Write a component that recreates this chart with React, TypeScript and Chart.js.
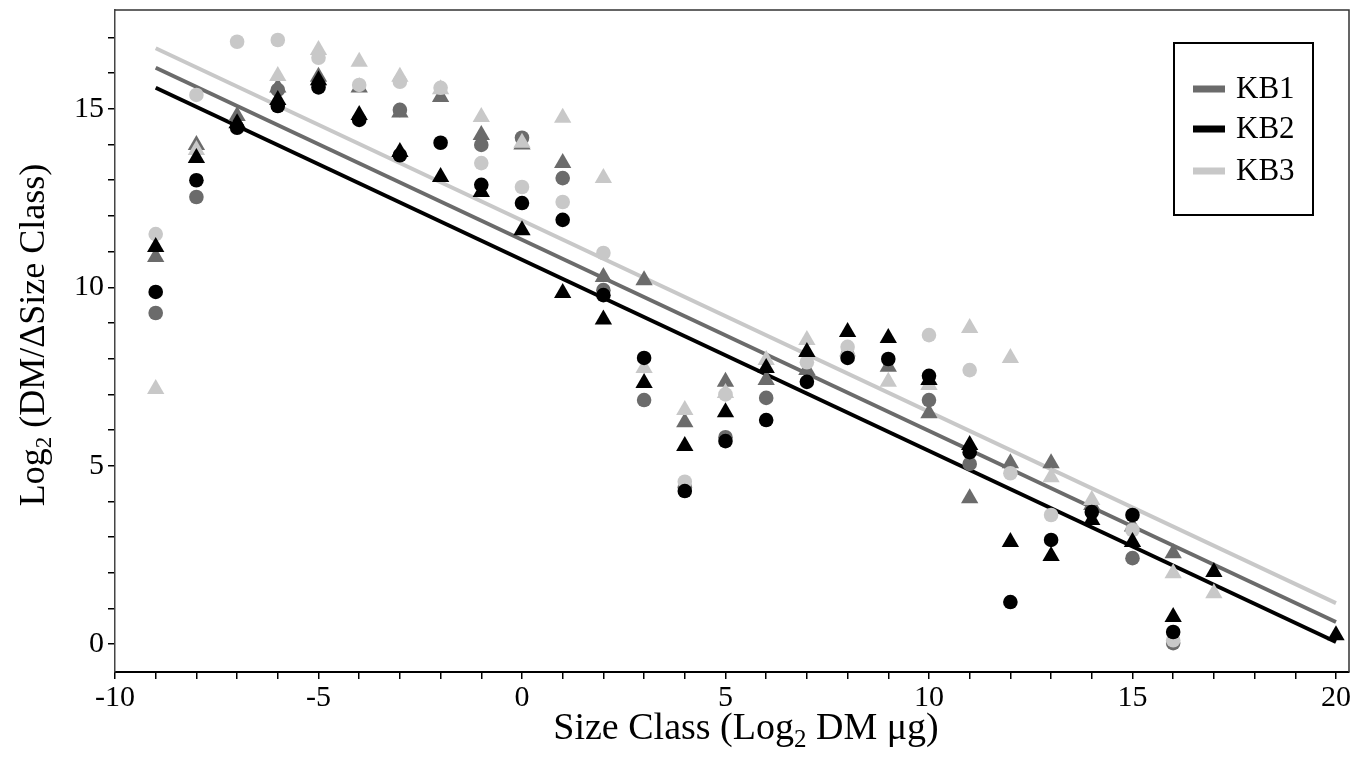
import React, { useEffect, useRef } from 'react';
import { Chart, registerables } from 'chart.js';

Chart.register(...registerables);

// ---- data ----
const sizeClasses = [-9, -8, -7, -6, -5, -4, -3, -2, -1, 0, 1, 2, 3, 4, 5, 6, 7, 8, 9, 10, 11, 12, 13, 14, 15, 16, 17, 18, 19, 20];

const kb1Circles = [9.28, 12.53, null, 15.53, null, null, 14.97, null, 13.99, 14.19, 13.06, 9.92, 6.84, 4.4, 5.8, 6.9, null, 8.1, null, 6.84, 5.05, null, null, null, 2.41, 0.03, null, null, null, null];
const kb1Triangles = [10.85, 13.99, 14.8, 15.6, 15.9, 15.6, 14.9, 15.33, 14.27, 14.0, 13.48, 10.29, 10.2, 6.22, 7.35, 7.4, 7.68, null, 7.77, 6.47, 4.09, 5.07, 5.07, 3.9, 3.3, 2.55, null, null, null, null];

const kb2Circles = [9.87, 13.0, 14.47, 15.08, 15.6, 14.69, 13.7, 14.05, 12.87, 12.36, 11.89, 9.78, 8.02, 4.29, 5.69, 6.28, 7.35, 8.02, 7.99, 7.52, 5.38, 1.18, 2.92, 3.7, 3.62, 0.34, null, null, null, null];
const kb2Triangles = [11.13, 13.62, 14.6, 15.25, 15.8, 14.83, 13.79, 13.09, 12.67, 11.6, 9.84, 9.1, 7.32, 5.55, 6.5, 7.74, 8.19, 8.75, 8.58, 7.4, 5.58, 2.86, 2.47, 3.48, 2.86, 0.76, 2.02, null, null, 0.25];

const kb3Circles = [11.49, 15.39, 16.88, 16.93, 16.43, 15.67, 15.76, 15.59, 13.48, 12.81, 12.39, 10.96, null, 4.55, 7.0, null, 7.9, 8.33, null, 8.66, 7.68, 4.79, 3.62, null, 3.2, 0.11, null, null, null, null];
const kb3Triangles = [7.15, 13.85, null, 15.92, 16.65, 16.32, 15.9, 15.55, 14.77, 14.05, 14.75, 13.06, 7.74, 6.56, 7.04, 7.96, 8.52, 8.2, 7.35, 7.26, 8.86, 8.02, 4.68, 4.04, null, 1.99, 1.43, null, null, null];

const fitX = [-9, 20];
const kb1Fit = [16.15, 0.62];
const kb2Fit = [15.59, 0.06];
const kb3Fit = [16.7, 1.15];

const seriesLabels = ['KB1', 'KB2', 'KB3'];
const seriesColors = ['#6b6b6b', '#000000', '#c8c8c8'];

const xMajorTicks = [-10, -5, 0, 5, 10, 15, 20];
const yMajorTicks = [0, 5, 10, 15];
const xTickRange = [-10, 20];
const yTickRange = [0, 17];

const xTitle = [
  { text: 'Size Class (Log', sub: false },
  { text: '2', sub: true },
  { text: ' DM \u03bcg)', sub: false },
];
const yTitle = [
  { text: 'Log', sub: false },
  { text: '2', sub: true },
  { text: ' (DM/\u0394Size Class)', sub: false },
];

const FONT = '"Liberation Serif", "Times New Roman", serif';

function toPoints(ys: (number | null)[]) {
  const out: { x: number; y: number }[] = [];
  sizeClasses.forEach((x, i) => {
    const y = ys[i];
    if (y !== null && y !== undefined) out.push({ x, y });
  });
  return out;
}

function fitPoints(ys: number[]) {
  return fitX.map((x, i) => ({ x, y: ys[i] }));
}

function drawRich(ctx: CanvasRenderingContext2D, segs: { text: string; sub: boolean }[], cx: number, baseY: number, size: number) {
  const fontFor = (sub: boolean) => `${sub ? Math.round(size * 0.65) : size}px ${FONT}`;
  let total = 0;
  segs.forEach((s) => {
    ctx.font = fontFor(s.sub);
    total += ctx.measureText(s.text).width;
  });
  let x = cx - total / 2;
  ctx.textAlign = 'left';
  ctx.textBaseline = 'alphabetic';
  segs.forEach((s) => {
    ctx.font = fontFor(s.sub);
    ctx.fillText(s.text, x, baseY + (s.sub ? size * 0.2 : 0));
    x += ctx.measureText(s.text).width;
  });
}

const decorPlugin = {
  id: 'decor',
  afterDraw(chart: any) {
    const ctx: CanvasRenderingContext2D = chart.ctx;
    const a = chart.chartArea;
    ctx.save();
    // frame top & right
    ctx.strokeStyle = '#333333';
    ctx.lineWidth = 1.5;
    ctx.beginPath();
    ctx.moveTo(a.left, a.top);
    ctx.lineTo(a.right, a.top);
    ctx.lineTo(a.right, a.bottom);
    ctx.stroke();
    // axis titles
    ctx.fillStyle = '#000';
    drawRich(ctx, xTitle, 746, 739, 38);
    ctx.save();
    ctx.translate(44, 335);
    ctx.rotate(-Math.PI / 2);
    drawRich(ctx, yTitle, 0, 0, 36);
    ctx.restore();
    // legend box
    const bx = 1174, by = 43, bw = 139, bh = 172;
    ctx.fillStyle = '#fff';
    ctx.fillRect(bx, by, bw, bh);
    ctx.strokeStyle = '#000';
    ctx.lineWidth = 2;
    ctx.strokeRect(bx, by, bw, bh);
    const rows = [89, 129, 171];
    seriesLabels.forEach((lab, i) => {
      ctx.fillStyle = seriesColors[i];
      ctx.fillRect(1193, rows[i] - 3.5, 32, 7);
      ctx.fillStyle = '#000';
      ctx.font = `31px ${FONT}`;
      ctx.textAlign = 'left';
      ctx.textBaseline = 'middle';
      ctx.fillText(lab, 1236, rows[i] + 1);
    });
    ctx.restore();
  },
};

export default function App() {
  const ref = useRef<HTMLCanvasElement>(null);
  useEffect(() => {
    if (!ref.current) return;
    const mk = (ys: (number | null)[], color: string, style: string, order: number) => ({
      type: 'scatter' as const,
      data: toPoints(ys),
      pointStyle: style,
      pointRadius: style === 'triangle' ? 10 : 7.3,
      backgroundColor: color,
      borderColor: color,
      borderWidth: 0,
      showLine: false,
      order,
    });
    const line = (ys: number[], color: string, label: string) => ({
      type: 'scatter' as const,
      label,
      data: fitPoints(ys),
      showLine: true,
      pointRadius: 0,
      borderColor: color,
      backgroundColor: color,
      borderWidth: 4,
      order: 10,
    });
    const chart = new Chart(ref.current, {
      type: 'scatter',
      data: {
        datasets: [
          line(kb1Fit, seriesColors[0], seriesLabels[0]),
          line(kb2Fit, seriesColors[1], seriesLabels[1]),
          line(kb3Fit, seriesColors[2], seriesLabels[2]),
          mk(kb1Circles, seriesColors[0], 'circle', 4),
          mk(kb1Triangles, seriesColors[0], 'triangle', 5),
          mk(kb3Circles, seriesColors[2], 'circle', 2),
          mk(kb3Triangles, seriesColors[2], 'triangle', 3),
          mk(kb2Circles, seriesColors[1], 'circle', 0),
          mk(kb2Triangles, seriesColors[1], 'triangle', 1),
        ] as any,
      },
      options: {
        animation: false,
        responsive: false,
        layout: { padding: { top: 10, right: 14, left: 0, bottom: 0 } },
        plugins: { legend: { display: false }, tooltip: { enabled: false } },
        scales: {
          x: {
            type: 'linear',
            min: -10,
            max: 20.32,
            afterFit: (s: any) => {
              s.height = 90;
              s.paddingLeft = 0;
              s.paddingRight = 0;
            },
            afterBuildTicks: (s: any) => {
              const t = [];
              for (let v = xTickRange[0]; v <= xTickRange[1]; v++) t.push({ value: v });
              s.ticks = t;
            },
            ticks: {
              autoSkip: false,
              maxRotation: 0,
              padding: 1,
              color: '#000',
              font: { family: FONT, size: 30 },
              callback: (v: any) => (xMajorTicks.includes(Number(v)) ? String(v) : ''),
            },
            grid: { drawOnChartArea: false, drawTicks: true, tickLength: 7, color: '#000', lineWidth: 1.5 },
            border: { display: true, color: '#000', width: 2 },
          },
          y: {
            type: 'linear',
            min: -0.78,
            max: 17.77,
            afterFit: (s: any) => {
              s.width = 115;
              s.paddingTop = 0;
              s.paddingBottom = 0;
            },
            afterBuildTicks: (s: any) => {
              const t = [];
              for (let v = yTickRange[0]; v <= yTickRange[1]; v++) t.push({ value: v });
              s.ticks = t;
            },
            ticks: {
              autoSkip: false,
              padding: 4,
              color: '#000',
              font: { family: FONT, size: 30 },
              callback: (v: any) => (yMajorTicks.includes(Number(v)) ? String(v) : ''),
            },
            grid: { drawOnChartArea: false, drawTicks: true, tickLength: 7, color: '#000', lineWidth: 1.5 },
            border: { display: true, color: '#444', width: 1.5 },
          },
        },
      },
      plugins: [decorPlugin],
    });
    return () => chart.destroy();
  }, []);
  return (
    <div style={{ position: 'absolute', left: 0, top: 0, width: 1363, height: 762, background: '#fff' }}>
      <canvas ref={ref} width={1363} height={762} />
    </div>
  );
}
